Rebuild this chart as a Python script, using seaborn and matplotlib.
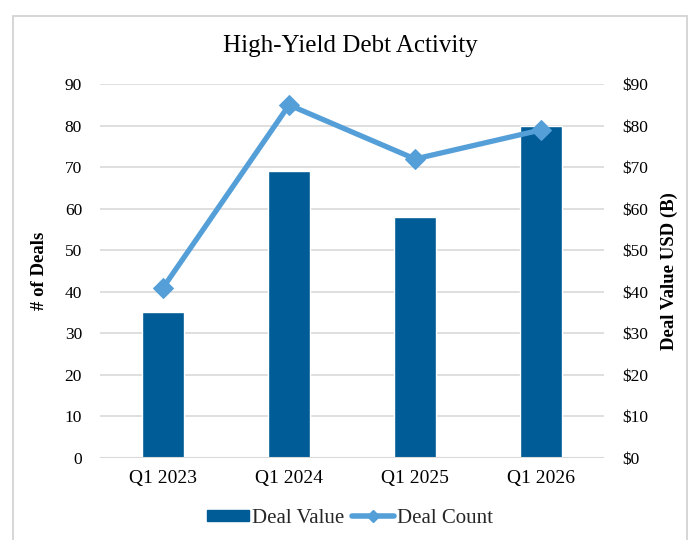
import numpy as np
import matplotlib
matplotlib.use("Agg")
import matplotlib.pyplot as plt
import seaborn as sns
from matplotlib.patches import Rectangle
from matplotlib.lines import Line2D
from matplotlib.patches import Patch

categories = ["Q1 2023", "Q1 2024", "Q1 2025", "Q1 2026"]
deal_value = [35.2, 69, 58, 80]
deal_count = [41, 85, 72, 79]
left_ticks = [0, 10, 20, 30, 40, 50, 60, 70, 80, 90]
right_tick_labels = ["$0", "$10", "$20", "$30", "$40", "$50", "$60", "$70", "$80", "$90"]

sns.set_style("white")
plt.rcParams["font.family"] = ["Liberation Serif", "DejaVu Serif"]

bar_color = "#005c97"
line_color = "#559fd8"
grid_color = "#d9d9d9"
text_color = "#000000"

fig = plt.figure(figsize=(7, 5.4), dpi=100)
ax = fig.add_axes([0.143, 0.152, 0.72, 0.692])
ax2 = ax.twinx()

# bars on right axis (Deal Value)
x = np.arange(len(categories))
sns.barplot(x=x, y=deal_value, ax=ax2, color=bar_color, width=0.33,
            saturation=1, native_scale=True)
# line on left axis (Deal Count)
sns.lineplot(x=x, y=deal_count, ax=ax, color=line_color, linewidth=3.8,
             marker="D", markersize=10, markeredgecolor=line_color)

ax.set_zorder(ax2.get_zorder() + 1)
ax.patch.set_visible(False)

for a in (ax, ax2):
    a.set_ylim(0, 90)
    a.set_xlim(-0.5, 3.5)
    for s in a.spines.values():
        s.set_visible(False)

ax2.set_yticks(left_ticks)
ax2.set_yticklabels(right_tick_labels)
ax2.yaxis.grid(True, color=grid_color, linewidth=1.2)
ax2.set_axisbelow(True)
ax2.tick_params(axis="y", length=0, pad=13, labelsize=12.5, labelcolor=text_color)
ax2.set_ylabel("Deal Value USD (B)", fontsize=13.5, fontweight="bold",
               color=text_color, labelpad=9)

ax.set_yticks(left_ticks)
ax.tick_params(axis="y", length=0, pad=13, labelsize=12.5, labelcolor=text_color)
ax.set_ylabel("# of Deals", fontsize=13.5, fontweight="bold", color=text_color, labelpad=12)

ax.set_xticks(x)
ax.set_xticklabels(categories)
ax.tick_params(axis="x", length=0, pad=9, labelsize=14, labelcolor=text_color)
ax2.tick_params(axis="x", length=0, labelbottom=False)
ax2.set_xlabel("")
ax.set_xlabel("")
ax.axhline(0, color=grid_color, linewidth=1.5, zorder=0)

fig.text(0.5, 0.914, "High-Yield Debt Activity", ha="center", va="center",
         fontsize=18, color=text_color)

handles = [Patch(facecolor=bar_color, edgecolor=bar_color),
           Line2D([0], [0], color=line_color, linewidth=4, marker="D",
                  markersize=6)]
fig.legend(handles, ["Deal Value", "Deal Count"], loc="center",
           bbox_to_anchor=(0.5, 0.04), ncol=2, frameon=False, fontsize=15,
           handlelength=2.0, handleheight=0.5, columnspacing=0.4, handletextpad=0.15)

fig.patches.append(Rectangle((13 / 700, -0.05), 674 / 700, 1 - 16 / 540 + 0.05,
                             transform=fig.transFigure, fill=False,
                             edgecolor="#d0d0d0", linewidth=1.2))

fig.savefig("out.png", dpi=100)
